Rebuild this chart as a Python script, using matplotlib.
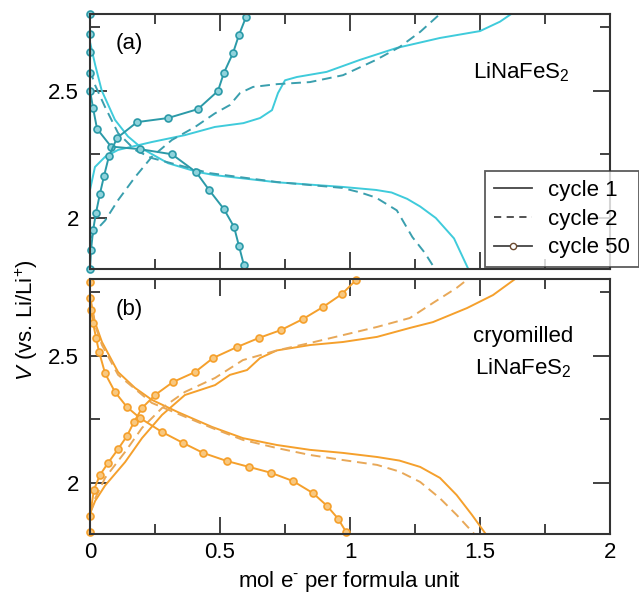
import numpy as np
import matplotlib
matplotlib.use('Agg')
import matplotlib.pyplot as plt
from matplotlib.lines import Line2D

plt.rcParams['font.family'] = ['Liberation Sans', 'DejaVu Sans']
plt.rcParams['mathtext.fontset'] = 'custom'
plt.rcParams['mathtext.rm'] = 'Liberation Sans'
plt.rcParams['mathtext.it'] = 'Liberation Sans:italic'

# (a) LiNaFeS2 -- discharge (d) and charge (c) branches, x in mol e- per f.u.
a1_dx = [0, 0.02, 0.045, 0.096, 0.146, 0.204, 0.30, 0.415, 0.48, 0.72, 0.97, 1.10, 1.16, 1.22, 1.27, 1.33, 1.40, 1.455]
a1_dv = [2.69, 2.60, 2.50, 2.385, 2.32, 2.27, 2.215, 2.18, 2.168, 2.14, 2.122, 2.11, 2.10, 2.075, 2.045, 2.0, 1.92, 1.80]
a1_cx = [0, 0.019, 0.058, 0.108, 0.238, 0.365, 0.48, 0.59, 0.654, 0.70, 0.723, 0.75, 0.796, 0.91, 1.038, 1.18, 1.346, 1.50, 1.577, 1.62]
a1_cv = [2.11, 2.20, 2.24, 2.267, 2.298, 2.325, 2.357, 2.372, 2.392, 2.423, 2.49, 2.54, 2.553, 2.573, 2.62, 2.667, 2.706, 2.733, 2.77, 2.80]

a2_dx = [0, 0.02, 0.058, 0.108, 0.173, 0.238, 0.338, 0.46, 0.72, 0.97, 1.04, 1.10, 1.18, 1.24, 1.288, 1.327]
a2_dv = [2.58, 2.52, 2.435, 2.333, 2.267, 2.235, 2.208, 2.176, 2.141, 2.118, 2.10, 2.08, 2.03, 1.925, 1.863, 1.80]
a2_cx = [0.005, 0.012, 0.058, 0.108, 0.173, 0.238, 0.315, 0.404, 0.48, 0.538, 0.577, 0.627, 0.72, 0.846, 0.973, 1.10, 1.19, 1.27, 1.346]
a2_cv = [1.92, 1.94, 1.99, 2.07, 2.16, 2.24, 2.306, 2.357, 2.41, 2.443, 2.49, 2.514, 2.525, 2.533, 2.56, 2.62, 2.67, 2.73, 2.80]

a50_dx = [0, 0, 0, 0, 0, 0.012, 0.027, 0.081, 0.192, 0.315, 0.408, 0.458, 0.515, 0.554, 0.573, 0.592]
a50_dv = [2.80, 2.72, 2.65, 2.57, 2.50, 2.43, 2.35, 2.28, 2.27, 2.25, 2.18, 2.11, 2.035, 1.965, 1.89, 1.815]
a50_cx = [0, 0.004, 0.012, 0.023, 0.038, 0.054, 0.073, 0.104, 0.181, 0.30, 0.415, 0.492, 0.515, 0.55, 0.573, 0.60]
a50_cv = [1.80, 1.875, 1.953, 2.02, 2.094, 2.165, 2.243, 2.314, 2.376, 2.392, 2.427, 2.498, 2.569, 2.647, 2.718, 2.788]

# (b) cryomilled LiNaFeS2
b1_dx = [0, 0.019, 0.046, 0.108, 0.173, 0.238, 0.338, 0.469, 0.588, 0.719, 0.846, 0.973, 1.104, 1.19, 1.27, 1.346, 1.41, 1.469, 1.522]
b1_dv = [2.73, 2.63, 2.553, 2.435, 2.373, 2.326, 2.278, 2.22, 2.176, 2.149, 2.13, 2.118, 2.102, 2.088, 2.063, 2.02, 1.953, 1.875, 1.80]
b1_cx = [0, 0.02, 0.058, 0.135, 0.20, 0.277, 0.365, 0.481, 0.538, 0.604, 0.654, 0.719, 0.846, 0.973, 1.104, 1.23, 1.319, 1.45, 1.55, 1.635]
b1_cv = [1.88, 1.93, 1.99, 2.082, 2.176, 2.267, 2.345, 2.384, 2.424, 2.443, 2.49, 2.52, 2.541, 2.553, 2.573, 2.608, 2.631, 2.686, 2.737, 2.80]

b2_dx = [0, 0.019, 0.046, 0.108, 0.238, 0.469, 0.588, 0.719, 0.846, 0.973, 1.104, 1.19, 1.27, 1.346, 1.41, 1.478]
b2_dv = [2.73, 2.62, 2.541, 2.424, 2.314, 2.216, 2.169, 2.137, 2.11, 2.09, 2.071, 2.045, 2.004, 1.94, 1.875, 1.80]
b2_cx = [0, 0.02, 0.058, 0.135, 0.20, 0.277, 0.365, 0.481, 0.588, 0.719, 0.846, 0.973, 1.104, 1.23, 1.319, 1.41, 1.454]
b2_cv = [1.88, 1.94, 2.02, 2.122, 2.216, 2.294, 2.357, 2.412, 2.482, 2.52, 2.549, 2.58, 2.612, 2.647, 2.706, 2.765, 2.80]

b50_dx = [0, 0, 0.004, 0.012, 0.023, 0.035, 0.058, 0.096, 0.142, 0.192, 0.277, 0.358, 0.435, 0.527, 0.612, 0.696, 0.78, 0.858, 0.912, 0.954, 0.985]
b50_dv = [2.79, 2.726, 2.68, 2.627, 2.57, 2.514, 2.43, 2.357, 2.298, 2.255, 2.20, 2.157, 2.118, 2.086, 2.063, 2.04, 2.008, 1.96, 1.91, 1.86, 1.808]
b50_cx = [0, 0, 0.015, 0.038, 0.069, 0.108, 0.142, 0.169, 0.20, 0.25, 0.319, 0.404, 0.473, 0.565, 0.65, 0.735, 0.819, 0.896, 0.969, 1.023]
b50_cv = [1.808, 1.871, 1.973, 2.031, 2.078, 2.133, 2.184, 2.239, 2.294, 2.345, 2.396, 2.435, 2.49, 2.533, 2.569, 2.60, 2.643, 2.69, 2.741, 2.796]

fig = plt.figure(figsize=(6.39, 5.94), dpi=100)
ax1 = fig.add_axes([0.14085, 0.54714, 0.81377, 0.42929])
ax2 = fig.add_axes([0.14085, 0.10101, 0.81377, 0.42929])

cyan = '#3fcbdb'
teal = '#3a9fae'
teal50 = '#2b9aa8'
orange = '#f5a02c'
orange2 = '#e8a858'
fs = 16

lw = 1.4
for x, v in [(a1_dx, a1_dv), (a1_cx, a1_cv)]:
    ax1.plot(x, v, '-', color=cyan, lw=lw)
for x, v in [(a2_dx, a2_dv), (a2_cx, a2_cv)]:
    ax1.plot(x, v, '--', color=teal, lw=lw, dashes=(5, 3))
for x, v in [(a50_dx, a50_dv), (a50_cx, a50_cv)]:
    ax1.plot(x, v, '-o', color=teal50, lw=lw, ms=5, mfc='#8fd3dc', mec=teal50, mew=1.2, clip_on=False)

for x, v in [(b1_dx, b1_dv), (b1_cx, b1_cv)]:
    ax2.plot(x, v, '-', color=orange, lw=lw)
for x, v in [(b2_dx, b2_dv), (b2_cx, b2_cv)]:
    ax2.plot(x, v, '--', color=orange2, lw=lw, dashes=(5, 3))
for x, v in [(b50_dx, b50_dv), (b50_cx, b50_cv)]:
    ax2.plot(x, v, '-o', color=orange, lw=lw, ms=5, mfc='#f8c880', mec=orange, mew=1.2, clip_on=False)

for ax in (ax1, ax2):
    ax.set_xlim(0, 2)
    ax.set_ylim(1.8, 2.8)
    ax.set_xticks([0, 0.5, 1, 1.5, 2])
    ax.set_xticks(np.arange(0.25, 2, 0.5), minor=True)
    ax.set_yticks([2, 2.5])
    ax.set_yticks([2.25, 2.75], minor=True)
    ax.tick_params(which='both', direction='in', top=True, right=True, width=1.3, color='#333333',
                   labelsize=fs)
    ax.tick_params(axis='y', pad=8)
    ax.tick_params(axis='x', pad=6)
    ax.tick_params(which='major', length=12)
    ax.tick_params(which='minor', length=7)
    for s in ax.spines.values():
        s.set_linewidth(1.5)
        s.set_color('#333333')

ax1.set_yticklabels(['2', '2.5'])
ax2.set_yticklabels(['2', '2.5'])
ax1.tick_params(labelbottom=False)
ax2.set_xticklabels(['0', '0.5', '1', '1.5', '2'])

ax1.text(0.1, 2.686, '(a)', fontsize=fs, va='center', ha='left')
ax2.text(0.1, 2.68, '(b)', fontsize=fs, va='center', ha='left')
ax1.text(1.66, 2.549, 'LiNaFeS$_2$', fontsize=fs, ha='center', va='baseline')
ax2.text(1.665, 2.553, 'cryomilled', fontsize=fs, ha='center', va='baseline')
ax2.text(1.665, 2.424, 'LiNaFeS$_2$', fontsize=fs, ha='center', va='baseline')

# axis titles placed in figure coords so the bottom one stays inside the canvas
fig.text(0.5477, 0.012, r'mol e$^{\text{-}}$ per formula unit', fontsize=fs, ha='center', va='baseline')
fig.text(0.042, 0.461, '$V$ (vs. Li/Li$^{+}$)', fontsize=fs, rotation=90, ha='center', va='center')

handles = [Line2D([], [], color='#444444', lw=1.3),
           Line2D([], [], color='#444444', lw=1.3, ls='--', dashes=(4, 3)),
           Line2D([], [], color='#444444', lw=1.3, marker='o', ms=4.5, mfc='white', mec='#6b4a30',
                  markevery=[0, -1])]
leg = fig.legend(handles, ['cycle 1', 'cycle 2', 'cycle 50'], loc='upper left',
                 bbox_to_anchor=(485 / 639, 1 - 171 / 594), fontsize=fs, frameon=True,
                 fancybox=False, edgecolor='#333333', handlelength=1.7, handletextpad=0.75,
                 labelspacing=0.35, borderpad=0.4, borderaxespad=0)
leg.get_frame().set_linewidth(1.3)

fig.savefig('out.png', dpi=100)
